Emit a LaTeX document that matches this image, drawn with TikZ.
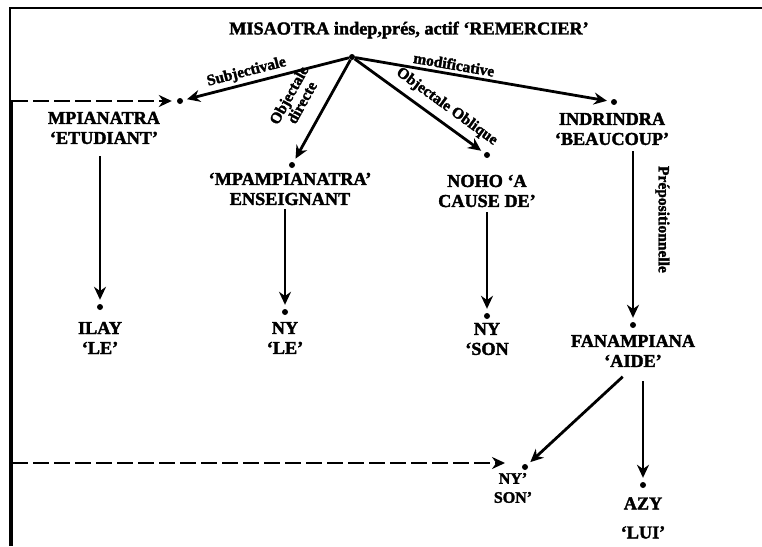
\documentclass[tikz,border=0pt]{standalone}
\usepackage{fontspec}
\setmainfont{Liberation Serif}[BoldFeatures={FakeBold=2}]
\usetikzlibrary{arrows.meta}
\begin{document}
\begin{tikzpicture}[x=1pt,y=-1pt,
  every node/.style={inner sep=0pt},
  word/.style={align=center, font=\bfseries\fontsize{18.2}{20}\selectfont},
  small/.style={align=center, font=\bfseries\fontsize{16}{19}\selectfont},
  dotn/.style={circle, fill=black, minimum size=6pt, inner sep=0pt},
  arr/.style={line width=2.8pt, -{Stealth[length=13pt,width=12pt]}, shorten >=4pt},
  dashline/.style={line width=2.8pt, dash pattern=on 16pt off 5pt, -{Stealth[length=13pt,width=12pt]}},
  lab/.style={font=\bfseries\fontsize{15.5}{15}\selectfont, sloped, above=3pt, align=center}
]
\useasboundingbox (0,0) rectangle (762,546);
% frame
\draw[line width=2.6pt] (762,8) -- (10,8) -- (10,546);
\draw[line width=4pt] (10.7,100) -- (10.7,546);

% title and dots
\node[word] (title) at (409,30) {MISAOTRA indep,prés, actif ‘REMERCIER’};
\node[dotn] (root) at (352,57) {};
\node[dotn] (mpd) at (180,101) {};
\node[dotn] (mpamd) at (292,165) {};
\node[dotn] (nohod) at (487,155) {};
\node[dotn] (indrd) at (614,102) {};
\node[dotn] (ilayd) at (100,307) {};
\node[dotn] (ny1d) at (285,312) {};
\node[dotn] (ny2d) at (487,316) {};
\node[dotn] (fand) at (633,325) {};
\node[dotn] (ny3d) at (525,467) {};
\node[dotn] (azyd) at (643,485) {};

% words
\node[word] (mpT) at (104,128) {MPIANATRA\\‘ETUDIANT’};
\node[word] (mpamT) at (290,189) {‘MPAMPIANATRA’\\ENSEIGNANT};
\node[word] (nohoT) at (487,191) {NOHO ‘A\\CAUSE DE’};
\node[word] (indrT) at (612,129) {INDRINDRA\\‘BEAUCOUP’};
\node[word] (ilayT) at (100,338) {ILAY\\‘LE’};
\node[word] (ny1T) at (285,338) {NY\\‘LE’};
\node[word] (ny2T) at (487,339) {NY\\‘SON};
\node[word] (fanT) at (633,351) {FANAMPIANA\\‘AIDE’};
\node[small] (ny3T) at (513,488) {NY’\\SON’};
\node[word] (azyT) at (643,518) {AZY\\[9pt]‘LUI’};

% connectors from root
\draw[arr] (root) -- (mpd) node[lab, pos=0.6] {Subjectivale};
\draw[arr] (root) -- (mpamd) node[lab, pos=0.52, above=12pt] {Objectale\\directe};
\draw[arr] (root) -- (nohod) node[lab, pos=0.64, above=4pt] {Objectale Oblique};
\draw[arr] (root) -- (indrd) node[lab, pos=0.38] {modificative};

% vertical connectors
\draw[arr, shorten <=12pt] (mpT.south -| ilayd) -- (ilayd);
\draw[arr, shorten <=4pt] (mpamT.south -| ny1d) -- (ny1d);
\draw[arr, shorten <=5pt] (nohoT.south -| ny2d) -- (ny2d);
\draw[arr, shorten <=6pt] (indrT.south -| fand) -- (fand)
  node[lab, pos=0.42, above=18pt] {Prépositionnelle};
\draw[arr, shorten <=14pt] (fanT.south) -- (ny3d);
\draw[arr, shorten <=14pt] (fanT.south -| azyd) -- (azyd);

% dashed connectors
\coordinate (d1) at (12,101);
\coordinate (d2) at (12,463);
\draw[dashline, shorten >=5pt] (d1) -- (mpd);
\draw[dashline, shorten >=20pt] (d2) -- (d2 -| ny3d);
\end{tikzpicture}
\end{document}
